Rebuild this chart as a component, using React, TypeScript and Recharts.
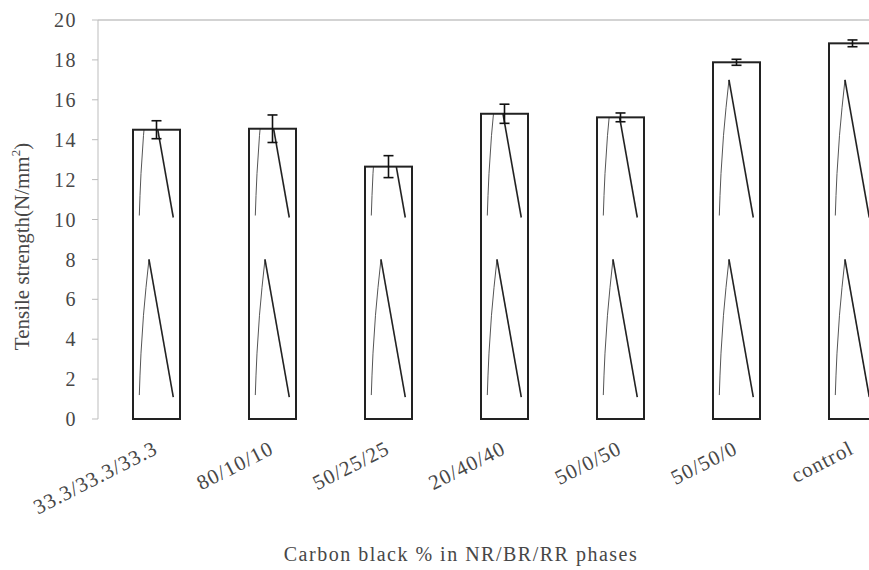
import React from 'react';
import { BarChart, Bar, XAxis, YAxis, ErrorBar, ReferenceLine, Label } from 'recharts';

const categories = ['33.3/33.3/33.3', '80/10/10', '50/25/25', '20/40/40', '50/0/50', '50/50/0', 'control'];
const strength = [14.5, 14.55, 12.65, 15.3, 15.12, 17.88, 18.83];
const errors = [0.45, 0.69, 0.55, 0.48, 0.22, 0.15, 0.17];
const yTicks = [0, 2, 4, 6, 8, 10, 12, 14, 16, 18, 20];
const boundaryTicks = [0, 1, 2, 3, 4, 5, 6, 7];

// decorative zig-zag pattern drawn inside every bar (value units; x as fraction of bar width)
const patLeftX = [0.134, 0.149, 0.17, 0.223, 0.277, 0.34];
const patLeftV = [1.2, 2.2, 3.3, 5.2, 6.6, 8.0];
const patRightX = 0.857;
const patRightV = 1.1;
const patShifts = [0, 9];

const data = categories.map((c, i) => ({ name: c, strength: strength[i], err: errors[i], pos: i }));

const FONT = "'Liberation Serif', 'Times New Roman', serif";
const TEXT = '#474747';

const PatternBar = (props: any) => {
  const { x, y, width, height, index, payload } = props;
  const val = payload.strength;
  const k = height / val;
  const base = y + height;
  const id = `barclip-${index}`;
  return (
    <g>
      <defs>
        <clipPath id={id}>
          <rect x={x} y={y} width={width} height={height} />
        </clipPath>
      </defs>
      <rect x={x} y={y} width={width} height={height} fill="#fff" />
      <g clipPath={`url(#${id})`}>
        {patShifts.map((s) => {
          const left = patLeftX.map((fx, i) => `${x + fx * width},${base - (patLeftV[i] + s) * k}`).join(' ');
          const peakX = x + patLeftX[patLeftX.length - 1] * width;
          const peakY = base - (patLeftV[patLeftV.length - 1] + s) * k;
          return (
            <g key={s}>
              <polyline points={left} fill="none" stroke="#555" strokeWidth={1} />
              <line x1={peakX} y1={peakY} x2={x + patRightX * width} y2={base - (patRightV + s) * k} stroke="#222" strokeWidth={1.6} />
            </g>
          );
        })}
      </g>
      <rect x={x} y={y} width={width} height={height} fill="none" stroke="#222" strokeWidth={2} />
    </g>
  );
};

const XTick = (props: any) => {
  const { x, y, payload } = props;
  const ax = x + 3;
  const ay = y + 34;
  return (
    <text x={ax} y={ay} transform={`rotate(-27, ${ax}, ${ay})`} textAnchor="end" fontFamily={FONT} fontSize={21} fill={TEXT} letterSpacing={1}>
      {payload.value}
    </text>
  );
};

const YLabel = (props: any) => {
  const vb = props.viewBox;
  const cx = vb.x + 22;
  const cy = vb.y + vb.height / 2 + 27;
  return (
    <text x={cx} y={cy} transform={`rotate(-90, ${cx}, ${cy})`} textAnchor="middle" dominantBaseline="central" fontFamily={FONT} fontSize={21} fill={TEXT}>
      Tensile strength(N/mm<tspan dy={-7} fontSize={13}>2</tspan><tspan dy={7}>)</tspan>
    </text>
  );
};

const XTitle = (props: any) => {
  const vb = props.viewBox;
  const cx = vb.x + vb.width / 2 - 43;
  return (
    <text x={cx} y={561} textAnchor="middle" fontFamily={FONT} fontSize={20} fill={TEXT} letterSpacing={1.5}>
      Carbon black % in NR/BR/RR phases
    </text>
  );
};

export default function App() {
  return (
    <div style={{ position: 'absolute', left: 0, top: 0, width: 869, height: 570, overflow: 'hidden', background: '#fff' }}>
      <BarChart width={940} height={570} data={data} margin={{ top: 20, right: 30, bottom: 0, left: 0 }} barSize={47}>
        <XAxis
          xAxisId="bounds"
          type="number"
          domain={[0, 7]}
          ticks={boundaryTicks}
          allowDataOverflow
          height={0}
          tick={false}
          tickSize={5}
          axisLine={{ stroke: '#bdbdbd' }}
          tickLine={{ stroke: '#bdbdbd' }}
        />
        <XAxis dataKey="name" height={151} axisLine={false} tickLine={false} tickSize={0} tickMargin={0} interval={0} tick={<XTick />}>
          <Label content={<XTitle />} />
        </XAxis>
        <YAxis
          domain={[0, 20]}
          ticks={yTicks}
          width={98}
          tickSize={6}
          tickMargin={15}
          axisLine={{ stroke: '#bdbdbd' }}
          tickLine={{ stroke: '#bdbdbd' }}
          tick={{ fontFamily: FONT, fontSize: 20, fill: TEXT, letterSpacing: 1.5 }}
        >
          <Label content={<YLabel />} />
        </YAxis>
        <ReferenceLine y={20} stroke="#a8a8a8" strokeWidth={1.2} />
        <Bar dataKey="strength" shape={<PatternBar />} isAnimationActive={false}>
          <ErrorBar dataKey="err" width={5} stroke="#111" strokeWidth={1.6} isAnimationActive={false} />
        </Bar>
      </BarChart>
    </div>
  );
}
